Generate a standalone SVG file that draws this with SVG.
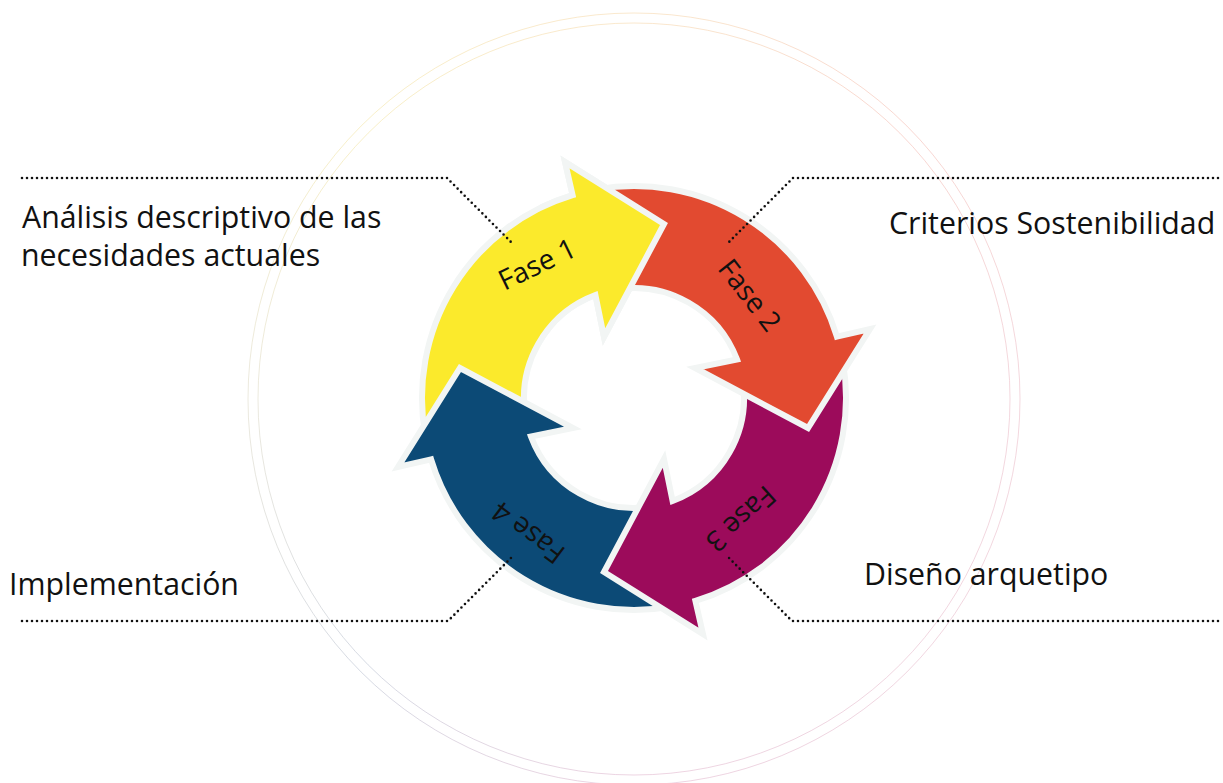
<svg xmlns="http://www.w3.org/2000/svg" xmlns:xlink="http://www.w3.org/1999/xlink" width="1223" height="783" viewBox="0 0 1223 783">
<style>
.arrow{stroke:#F2F5F4;stroke-width:6;stroke-linejoin:miter;stroke-miterlimit:10}
.ring{fill:none;stroke-width:0.8;opacity:0.7}
.lbl{font-family:"Open Sans","Noto Sans","Liberation Sans",sans-serif;font-size:30.3px;fill:#111}
.fase{font-family:"Open Sans","Noto Sans","Liberation Sans",sans-serif;font-size:28px;fill:#111;text-anchor:middle}
.dots{fill:none;stroke:#111;stroke-width:2.6;stroke-linecap:round;stroke-dasharray:0 5}
</style>
<defs>
<path id="arr" d="M -61.4 -202.9 L -69 -236 L 30 -174 L -30 -61 L -38.6 -103 A 110 110 0 0 0 -108.3 19.1 L -208.8 36.8 A 212 212 0 0 1 -61.4 -202.9 Z"/>
<linearGradient id="g1" gradientUnits="userSpaceOnUse" x1="248" y1="399" x2="634" y2="13"><stop offset="0" stop-color="#dcd8c4"/><stop offset="0.5" stop-color="#f2e39c"/><stop offset="1" stop-color="#f6d6a6"/></linearGradient>
<linearGradient id="g2" gradientUnits="userSpaceOnUse" x1="634" y1="13" x2="1020" y2="399"><stop offset="0" stop-color="#f6d6a6"/><stop offset="0.5" stop-color="#f3b6ac"/><stop offset="1" stop-color="#eab8c4"/></linearGradient>
<linearGradient id="g3" gradientUnits="userSpaceOnUse" x1="1020" y1="399" x2="634" y2="785"><stop offset="0" stop-color="#eab8c4"/><stop offset="1" stop-color="#dfb2cb"/></linearGradient>
<linearGradient id="g4" gradientUnits="userSpaceOnUse" x1="634" y1="785" x2="248" y2="399"><stop offset="0" stop-color="#dfb2cb"/><stop offset="0.5" stop-color="#b4bccd"/><stop offset="1" stop-color="#dcd8c4"/></linearGradient>
<clipPath id="headclip"><rect x="540" y="140" width="150" height="215"/></clipPath>
</defs>
<g id="rings">
<path class="ring" stroke="url(#g1)" d="M 248 399 A 386 386 0 0 1 634 13"/>
<path class="ring" stroke="url(#g2)" d="M 634 13 A 386 386 0 0 1 1020 399"/>
<path class="ring" stroke="url(#g3)" d="M 1020 399 A 386 386 0 0 1 634 785"/>
<path class="ring" stroke="url(#g4)" d="M 634 785 A 386 386 0 0 1 248 399"/>
<path class="ring" stroke="url(#g1)" d="M 258 399 A 376 376 0 0 1 634 23"/>
<path class="ring" stroke="url(#g2)" d="M 634 23 A 376 376 0 0 1 1010 399"/>
<path class="ring" stroke="url(#g3)" d="M 1010 399 A 376 376 0 0 1 634 775"/>
<path class="ring" stroke="url(#g4)" d="M 634 775 A 376 376 0 0 1 258 399"/>
</g>
<g id="fase1">
<use xlink:href="#arr" class="arrow" fill="#FBEA2C" transform="translate(634 398)"/>
</g>
<g id="fase4">
<use xlink:href="#arr" class="arrow" fill="#0C4A76" transform="translate(634 398) rotate(-90)"/>
</g>
<g id="fase3">
<use xlink:href="#arr" class="arrow" fill="#9C0B5B" transform="translate(634 398) rotate(180)"/>
</g>
<g id="fase2">
<use xlink:href="#arr" class="arrow" fill="#E24A30" transform="translate(634 398) rotate(90)"/>
</g>
<g id="fase1-head" clip-path="url(#headclip)">
<use xlink:href="#arr" class="arrow" fill="#FBEA2C" transform="translate(634 398)"/>
</g>
<g id="connectors">
<polyline class="dots" points="22,178 447,178 512,243"/>
<polyline class="dots" points="1218,178 793,178 728,243"/>
<polyline class="dots" points="22,621 448,621 512,557"/>
<polyline class="dots" points="1218,621 792,621 728,557"/>
</g>
<g id="fase-labels">
<text class="fase" transform="translate(537 264) rotate(-26)" y="10">Fase 1</text>
<text class="fase" transform="translate(750 295) rotate(52)" y="10">Fase 2</text>
<text class="fase" transform="translate(741 519) rotate(138)" y="10">Fase 3</text>
<text class="fase" transform="translate(528 533) rotate(217)" y="10">Fase 4</text>
</g>
<g id="label1">
<text class="lbl" x="22" y="228">Análisis descriptivo de las</text>
<text class="lbl" x="21" y="266">necesidades actuales</text>
</g>
<g id="label2"><text class="lbl" x="889" y="234">Criterios Sostenibilidad</text></g>
<g id="label3"><text class="lbl" x="864" y="585">Diseño arquetipo</text></g>
<g id="label4"><text class="lbl" x="9" y="595">Implementación</text></g>
</svg>
